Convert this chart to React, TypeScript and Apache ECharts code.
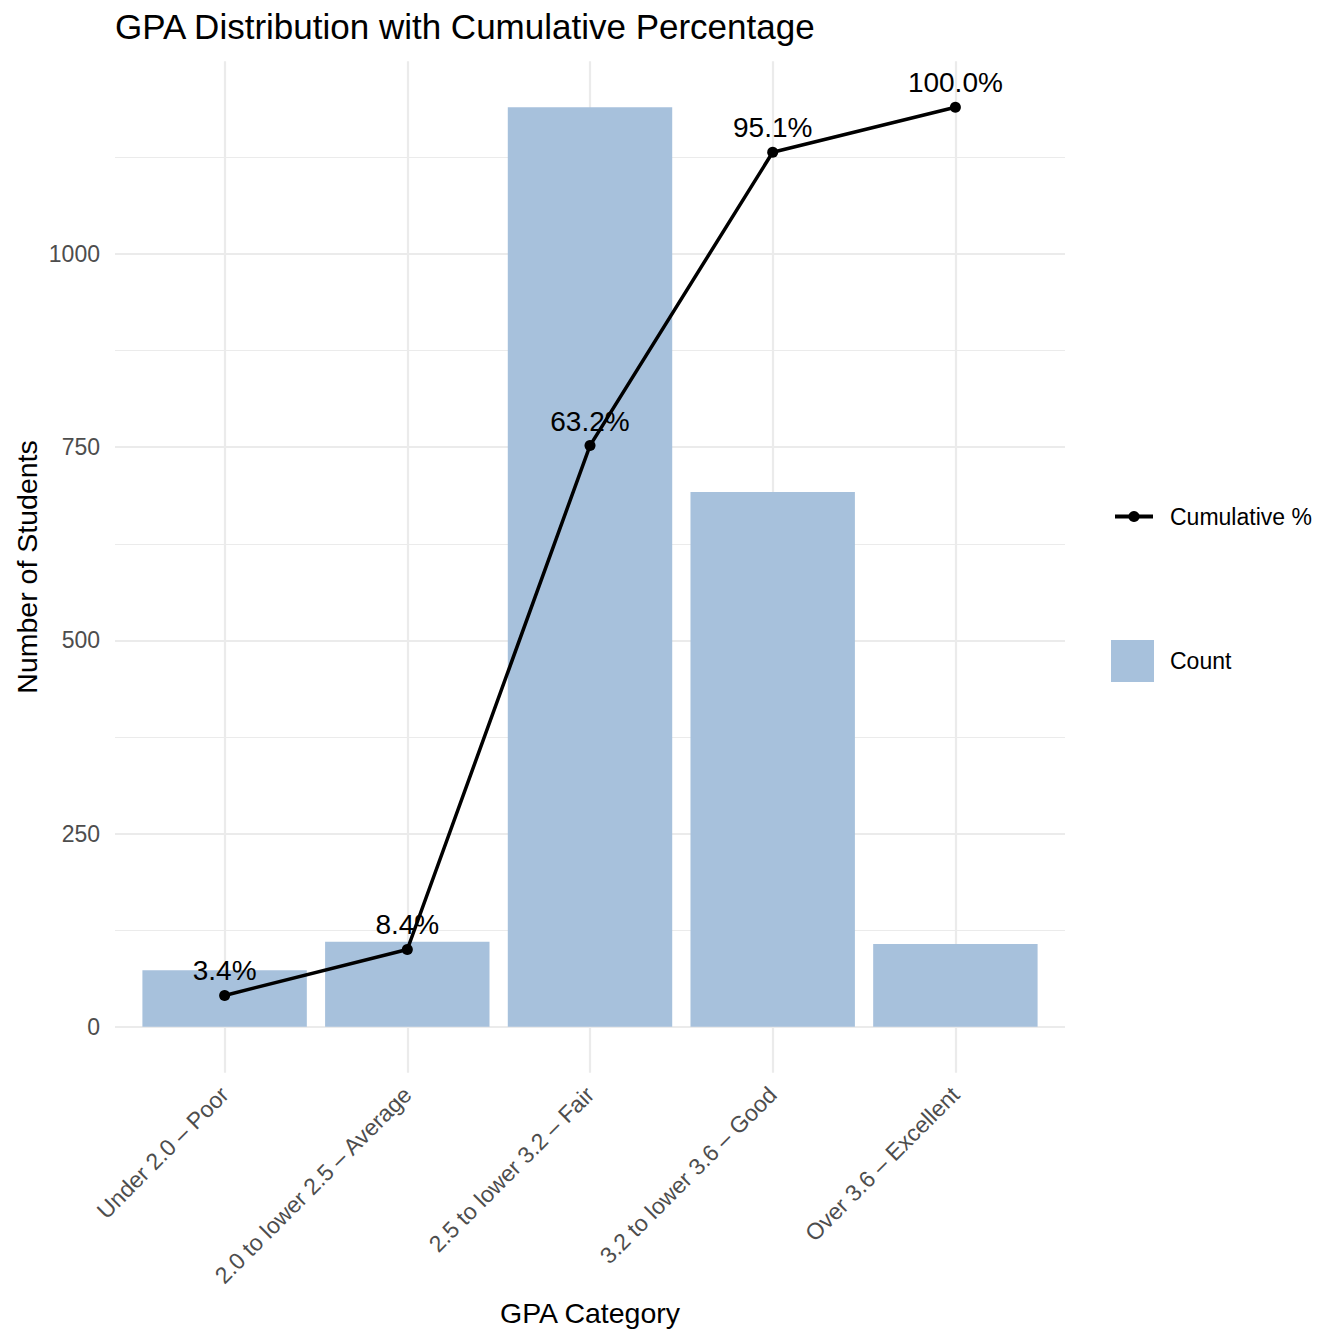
import React, { useEffect, useRef } from "react";
import * as echarts from "echarts";

const categories = [
  "Under 2.0 – Poor",
  "2.0 to lower 2.5 – Average",
  "2.5 to lower 3.2 – Fair",
  "3.2 to lower 3.6 – Good",
  "Over 3.6 – Excellent",
];
const counts = [73, 110, 1190, 692, 107];
const cumulativePct = [3.4, 8.4, 63.2, 95.1, 100.0];
const yTickLabels = [0, 250, 500, 750, 1000];

const FONT = "'Liberation Sans', Arial, Helvetica, sans-serif";

export default function App() {
  const ref = useRef<HTMLDivElement>(null);

  useEffect(() => {
    document.body.style.margin = "0";
    const chart = echarts.init(ref.current!, null, { renderer: "svg" });

    const maxCount = Math.max(...counts);
    const lineValues = cumulativePct.map((p) => (p * maxCount) / 100);

    // layout
    const panelLeft = 115;
    const panelRight = 1065;
    const panelTop = 61.2;
    const panelBottom = 1072.7;
    const yMin = -59.5;
    const yMax = 1249.5;
    const k = (panelBottom - panelTop) / (yMax - yMin);
    const zeroPx = panelBottom + yMin * k;
    const gridMax = 1250;
    const gridTopPx = zeroPx - gridMax * k;
    const band = (panelRight - panelLeft) / (categories.length + 0.2);
    const catLeft = panelLeft + 0.6 * band;
    const catRight = panelRight - 0.6 * band;

    const option: any = {
      animation: false,
      backgroundColor: "#ffffff",
      textStyle: { fontFamily: FONT },
      title: {
        text: "GPA Distribution with Cumulative Percentage",
        left: panelLeft,
        top: 9,
        padding: 0,
        textStyle: { fontSize: 35, fontWeight: "normal", color: "#000", fontFamily: FONT },
      },
      legend: [
        {
          data: ["Cumulative %"],
          left: 1113,
          top: 505,
          padding: 0,
          itemWidth: 38,
          itemHeight: 14,
          selectedMode: false,
          lineStyle: { width: 4, color: "#000" },
          textStyle: { fontSize: 23, color: "#000", fontFamily: FONT, padding: [0, 0, 0, 12] },
        },
        {
          data: [{ name: "Count", icon: "rect" }],
          left: 1111,
          top: 640,
          padding: 0,
          itemWidth: 43,
          itemHeight: 42,
          selectedMode: false,
          textStyle: { fontSize: 23, color: "#000", fontFamily: FONT, padding: [0, 0, 0, 11] },
        },
      ],
      grid: [
        {
          left: catLeft,
          width: catRight - catLeft,
          top: panelTop,
          height: panelBottom - panelTop,
        },
        {
          left: panelLeft,
          width: panelRight - panelLeft,
          top: gridTopPx,
          height: zeroPx - gridTopPx,
        },
      ],
      xAxis: [
        {
          type: "category",
          gridIndex: 0,
          data: categories,
          boundaryGap: false,
          axisLine: { show: false },
          axisTick: { show: false },
          axisLabel: {
            interval: 0,
            rotate: 45,
            fontSize: 23,
            color: "#4d4d4d",
            margin: 18,
            fontFamily: FONT,
          },
          splitLine: { show: true, lineStyle: { color: "#ebebeb", width: 2.2 } },
          name: "GPA Category",
          nameLocation: "middle",
          nameGap: 226,
          nameTextStyle: { fontSize: 28.5, color: "#000", fontFamily: FONT },
        },
        { type: "value", gridIndex: 1, show: false, min: 0, max: 1 },
      ],
      yAxis: [
        {
          type: "value",
          gridIndex: 0,
          min: yMin,
          max: yMax,
          axisLabel: { show: false },
          axisLine: { show: false },
          axisTick: { show: false },
          splitLine: { show: false },
          name: "Number of Students",
          nameLocation: "middle",
          nameRotate: 90,
          nameGap: catLeft - 41,
          nameTextStyle: { fontSize: 28.5, color: "#000", fontFamily: FONT },
        },
        {
          type: "value",
          gridIndex: 1,
          min: 0,
          max: gridMax,
          interval: 250,
          axisLine: { show: false },
          axisTick: { show: false },
          axisLabel: {
            fontSize: 23,
            color: "#4d4d4d",
            margin: 15,
            fontFamily: FONT,
            showMaxLabel: false,
            formatter: (v: number) => (yTickLabels.includes(v) ? String(v) : ""),
          },
          splitLine: { show: true, showMaxLine: false, lineStyle: { color: "#ebebeb", width: 2.2 } },
          minorTick: { show: false, splitNumber: 2 },
          minorSplitLine: { show: true, lineStyle: { color: "#ebebeb", width: 1.1 } },
        },
      ],
      series: [
        {
          type: "bar",
          name: "Count",
          xAxisIndex: 0,
          yAxisIndex: 0,
          data: counts,
          barWidth: "90%",
          clip: false,
          itemStyle: { color: "#a7c1dc" },
          z: 2,
        },
        {
          type: "line",
          name: "Cumulative %",
          xAxisIndex: 0,
          yAxisIndex: 0,
          data: lineValues,
          symbol: "circle",
          symbolSize: 11,
          showSymbol: true,
          clip: false,
          lineStyle: { color: "#000", width: 3.5 },
          itemStyle: { color: "#000" },
          label: {
            show: true,
            position: "top",
            distance: 5,
            fontSize: 28,
            color: "#000",
            fontFamily: FONT,
            formatter: (p: any) => cumulativePct[p.dataIndex].toFixed(1) + "%",
          },
          z: 3,
        },
      ],
    };

    chart.setOption(option);
    return () => chart.dispose();
  }, []);

  return <div ref={ref} style={{ width: 1344, height: 1344 }} />;
}
